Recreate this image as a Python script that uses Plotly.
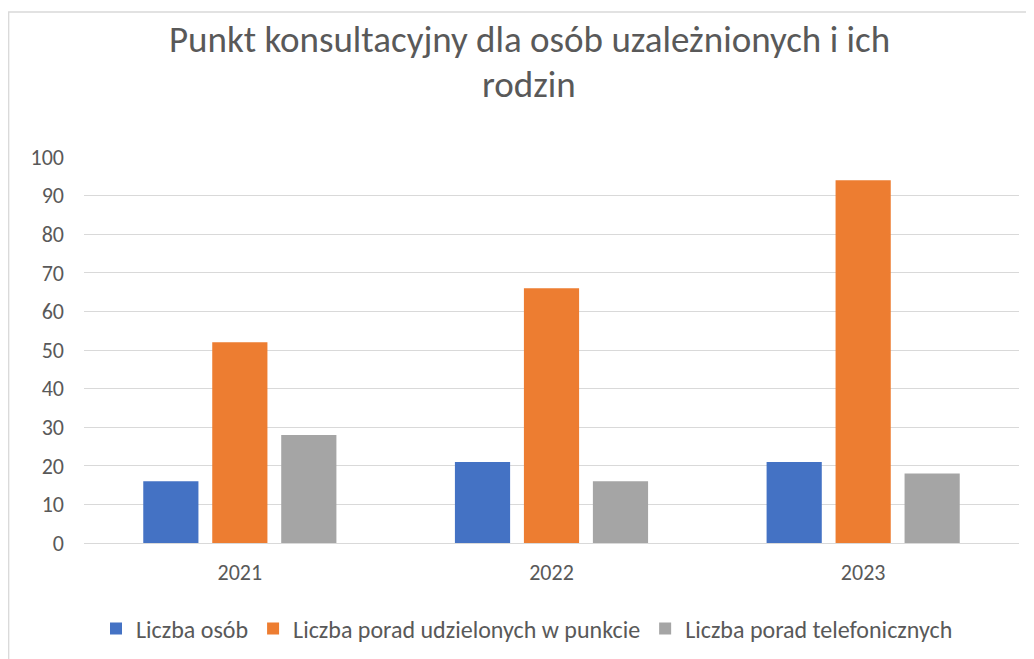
import plotly.graph_objects as go

years = ["2021", "2022", "2023"]
series_names = ["Liczba osób", "Liczba porad udzielonych w punkcie", "Liczba porad telefonicznych"]
liczba_osob = [16, 21, 21]
porady_punkt = [52, 66, 94]
porady_tel = [28, 16, 18]
colors = ["#4472C4", "#ED7D31", "#A5A5A5"]
y_ticks = [0, 10, 20, 30, 40, 50, 60, 70, 80, 90, 100]
title_lines = ["Punkt konsultacyjny dla osób uzależnionych i ich", "rodzin"]

FONT = "Carlito, Lato, 'Open Sans', sans-serif"
TXT = "#595959"

# page has an 8px body margin, so the figure is 8px smaller and shifted
W, H = 1026, 651
L, R, T, B = 76, 15, 149, 116
pw, ph = W - L - R, H - T - B

fig = go.Figure()
for name, vals, col in zip(series_names, [liczba_osob, porady_punkt, porady_tel], colors):
    fig.add_trace(go.Bar(x=years, y=vals, name=name, marker=dict(color=col, line=dict(width=0))))

annotations = []
for line, yc in zip(title_lines, [31, 76]):
    annotations.append(dict(text=line, xref="paper", yref="paper",
                            x=(521 - L) / pw, xanchor="center",
                            y=(H - B - yc) / ph, yanchor="middle", showarrow=False,
                            font=dict(size=37, color=TXT, family=FONT)))

fig.update_layout(
    width=W, height=H,
    margin=dict(l=L, r=R, t=T, b=B, autoexpand=False),
    paper_bgcolor="white", plot_bgcolor="white",
    barmode="group", bargap=0.336, bargroupgap=0.2,
    font=dict(family=FONT, color=TXT),
    annotations=annotations,
    xaxis=dict(showgrid=False, showline=False, ticks="", tickfont=dict(size=22, color=TXT),
               ticklabelstandoff=14, automargin=False),
    yaxis=dict(range=[0, 100], tickvals=y_ticks, showgrid=True, gridcolor="#D9D9D9", gridwidth=1.3,
               zeroline=True, zerolinecolor="#D9D9D9", zerolinewidth=1.3, showline=False, ticks="",
               tickfont=dict(size=22, color=TXT), ticklabelstandoff=19, automargin=False),
    legend=dict(orientation="h", x=519 / W, xanchor="center", xref="container",
                y=1 - 621 / H, yanchor="middle", yref="container",
                font=dict(size=24, color=TXT, family=FONT), itemwidth=30, traceorder="normal"),
    shapes=[dict(type="rect", xref="paper", yref="paper",
                 x0=(0.7 - L) / pw, x1=(W + 20 - L) / pw,
                 y0=(H - B - (H + 20)) / ph, y1=(H - B - 4) / ph,
                 line=dict(color="#D9D9D9", width=1.3), fillcolor="rgba(0,0,0,0)", layer="below")],
)

fig.write_html("out.html")
